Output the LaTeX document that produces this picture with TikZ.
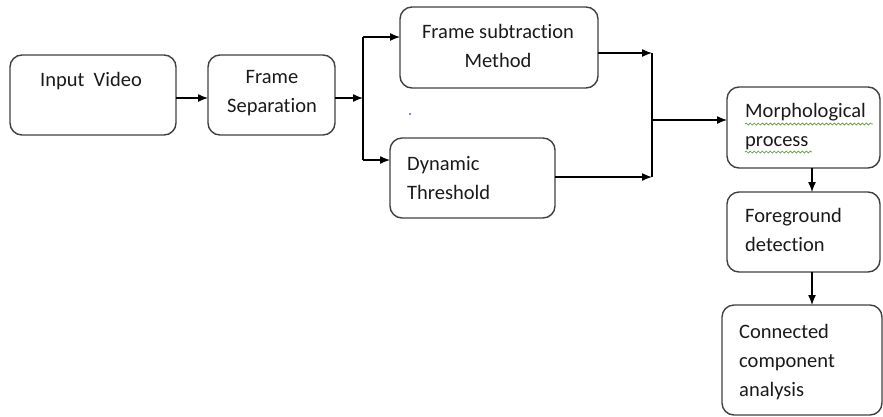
\documentclass[tikz,border=0pt]{standalone}
\usepackage{fontspec}
\setmainfont{Carlito}[Ligatures={NoCommon}]
\usetikzlibrary{arrows.meta,decorations.pathmorphing}
\definecolor{boxline}{HTML}{404040}
\definecolor{txt}{HTML}{1A1A1A}
\definecolor{spell}{HTML}{5A9E3A}
\tikzset{
  x=1pt,y=-1pt,
  blk/.style={draw=boxline,line width=1.4pt,rounded corners=12pt},
  lbl/.style={text=txt,font=\fontsize{20.5}{29}\selectfont,inner sep=0pt},
  conn/.style={draw=black,line width=1.3pt,-{Latex[length=10pt,width=8pt]}},
  plain/.style={draw=black,line width=1.3pt},
  wavy/.style={draw=spell,line width=0.7pt,decorate,decoration={snake,amplitude=1pt,segment length=4pt}}
}
\begin{document}
\begin{tikzpicture}
\useasboundingbox (0,0) rectangle (883,416);
% boxes
\draw[blk] (10,55) rectangle (176,135);
\coordinate (ivE) at (176,98);
\coordinate (fsW) at (208,98);
\draw[blk] (208,55) rectangle (335,135);
\coordinate (fsE) at (335,98);
\draw[blk] (400,7) rectangle (598,88);
\coordinate (fmW) at (400,37);
\coordinate (fmE) at (598,53);
\draw[blk] (390,138) rectangle (555,218);
\coordinate (dtW) at (390,160);
\coordinate (dtE) at (555,177);
\draw[blk] (727,87) rectangle (880,168);
\coordinate (mpW) at (727,120);
\coordinate (mpS) at (812,168);
\draw[blk] (727,192) rectangle (880,272);
\coordinate (fdN) at (812,192);
\coordinate (fdS) at (812,272);
\draw[blk] (722,305) rectangle (882,415);
\coordinate (ccN) at (812,305);
% labels
\node[lbl] (t1) at (91,81) {Input\ \ Video};
\node[lbl,align=center] (t2) at (272,93) {Frame\\Separation};
\node[lbl,align=center] (t3) at (498,46) {Frame subtraction\\Method};
\node[lbl,align=left,anchor=west] (t4) at (407,178) {Dynamic\\Threshold};
\node[lbl,align=left,anchor=west] (t5) at (745,127) {Morphological\\process};
\node[lbl,align=left,anchor=west] (t6) at (745,230) {Foreground\\detection};
\node[lbl,align=left,anchor=west] (t7) at (739,362) {Connected\\component\\analysis};
% spell-check underlines
\draw[wavy] (745,124) -- (873,124);
\draw[wavy] (745,152) -- (812,152);
% junctions
\coordinate (sp) at (363,98);
\coordinate (spT) at (363,37);
\coordinate (spB) at (363,160);
\coordinate (mg) at (652,120);
\coordinate (mgT) at (652,53);
\coordinate (mgB) at (652,177);
% connectors
\draw[conn] (ivE) -- (fsW);
\draw[conn] (fsE) -- (sp);
\draw[plain] (spT) -- (spB);
\draw[conn] (spT) -- (fmW);
\draw[conn] (spB) -- (dtW);
\draw[conn] (fmE) -- (mgT);
\draw[conn] (dtE) -- (mgB);
\draw[plain] (mgT) -- (mgB);
\draw[conn] (mg) -- (mpW);
\draw[conn] (mpS) -- (fdN);
\draw[conn] (fdS) -- (ccN);
% stray dot
\fill[blue] (410,114) circle (0.8);
\end{tikzpicture}
\end{document}
